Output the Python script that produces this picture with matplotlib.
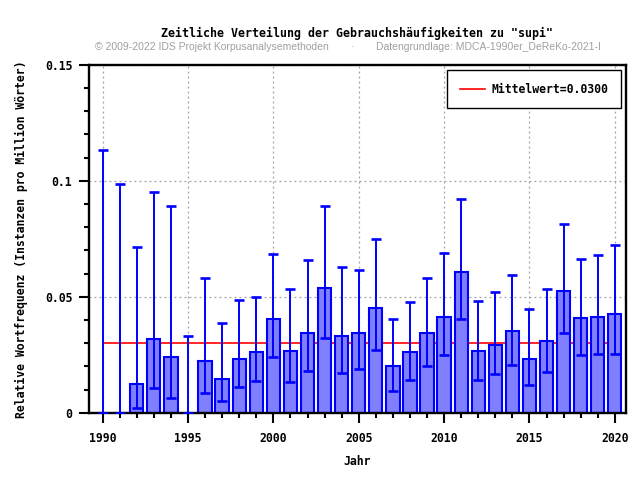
import numpy as np
import matplotlib.pyplot as plt
from matplotlib.ticker import MultipleLocator, FixedLocator

# relative frequency per year, with lower/upper bounds of the error bars
years = list(range(1990, 2021))
freq = [0.0, 0.0, 0.0125, 0.0317, 0.0239, 0.0, 0.0222, 0.0145, 0.0231, 0.0261,
        0.0403, 0.0265, 0.0342, 0.0536, 0.0330, 0.0342, 0.0450, 0.0202, 0.0261, 0.0342,
        0.0415, 0.0609, 0.0265, 0.0291, 0.0351, 0.0231, 0.0308, 0.0527, 0.0407, 0.0415,
        0.0428]
err_low = [0.0, 0.0, 0.0019, 0.0105, 0.0062, 0.0, 0.0085, 0.0053, 0.0110, 0.0136,
           0.0239, 0.0132, 0.0179, 0.0321, 0.0170, 0.0188, 0.0269, 0.0096, 0.0143, 0.0201,
           0.0248, 0.0403, 0.0143, 0.0166, 0.0205, 0.0119, 0.0175, 0.0342, 0.0248, 0.0252,
           0.0252]
err_high = [0.1132, 0.0987, 0.0715, 0.0951, 0.0893, 0.0330, 0.0583, 0.0385, 0.0486, 0.0500,
            0.0686, 0.0534, 0.0660, 0.0893, 0.0629, 0.0617, 0.0751, 0.0403, 0.0476, 0.0583,
            0.0690, 0.0923, 0.0484, 0.0519, 0.0596, 0.0446, 0.0532, 0.0815, 0.0665, 0.0682,
            0.0725]
mean_value = 0.0300

title = 'Zeitliche Verteilung der Gebrauchsh\u00e4ufigkeiten zu "supi"'
credit = "\u00a9 2009-2022 IDS Projekt Korpusanalysemethoden"
source = "Datengrundlage: MDCA-1990er_DeReKo-2021-I"

mono = "DejaVu Sans Mono"
blue = "#0000ff"

x = np.array(years)
f = np.array(freq)
yerr = [f - np.array(err_low), np.array(err_high) - f]

fig = plt.figure(figsize=(6.4, 4.8), dpi=100)
ax = fig.add_axes([0.139, 0.14, 0.839, 0.725])

ax.plot([years[0], years[-1]], [mean_value, mean_value], color="red", lw=1.2,
        zorder=1, label="Mittelwert=%.4f" % mean_value)
ax.bar(x, f, width=0.78, color="#8080ff", edgecolor=blue, linewidth=1.5, zorder=2)
ax.errorbar(x, f, yerr=yerr, fmt="none", ecolor=blue, elinewidth=1.4,
            capsize=3.5, capthick=1.9, zorder=3)

ax.set_xlim(1989.2, 2020.65)
ax.set_ylim(0, 0.15)

ax.xaxis.set_major_locator(MultipleLocator(5))
ax.xaxis.set_minor_locator(MultipleLocator(1))
ax.yaxis.set_major_locator(FixedLocator([0, 0.05, 0.1, 0.15]))
ax.yaxis.set_minor_locator(MultipleLocator(0.01))
ax.set_yticklabels(["0", "0.05", "0.1", "0.15"])

ax.tick_params(which="major", direction="out", length=7, width=1.5,
               labelsize=8.3, pad=7)
ax.tick_params(which="minor", direction="out", length=3.5, width=1.5)
for lab in ax.get_xticklabels() + ax.get_yticklabels():
    lab.set_fontfamily(mono)
    lab.set_fontweight("bold")
ax.tick_params(axis="y", pad=5)

ax.grid(True, which="major", color="#a0a0a0", linestyle=(0, (1.5, 2.5)), lw=0.9, zorder=0)
ax.set_axisbelow(True)
for s in ax.spines.values():
    s.set_linewidth(1.7)

ax.set_xlabel("Jahr", fontfamily=mono, fontweight="bold", fontsize=8.3, labelpad=7)
ax.set_ylabel("Relative Wortfrequenz (Instanzen pro Million W\u00f6rter)",
              fontfamily=mono, fontweight="bold", fontsize=8.3, labelpad=12)

leg = ax.legend(loc="upper right", prop={"family": mono, "weight": "bold", "size": 8.3},
                fancybox=False, edgecolor="black", framealpha=1, handlelength=2.2,
                handletextpad=0.5, borderpad=1.1, borderaxespad=0.45)
leg.get_frame().set_linewidth(1.0)

fig.text(0.558, 0.931, title, ha="center", va="center", fontfamily=mono,
         fontweight="bold", fontsize=8.4)
fig.text(0.148, 0.902, credit, ha="left", va="center", fontfamily="Liberation Sans",
         fontsize=7.5, color="#a0a0a0")
fig.text(0.551, 0.902, "\u00b7", ha="center", va="center", fontfamily="Liberation Sans",
         fontsize=7.5, color="#a0a0a0")
fig.text(0.587, 0.902, source, ha="left", va="center", fontfamily="Liberation Sans",
         fontsize=7.5, color="#a0a0a0")

fig.savefig("out.png", dpi=100)
